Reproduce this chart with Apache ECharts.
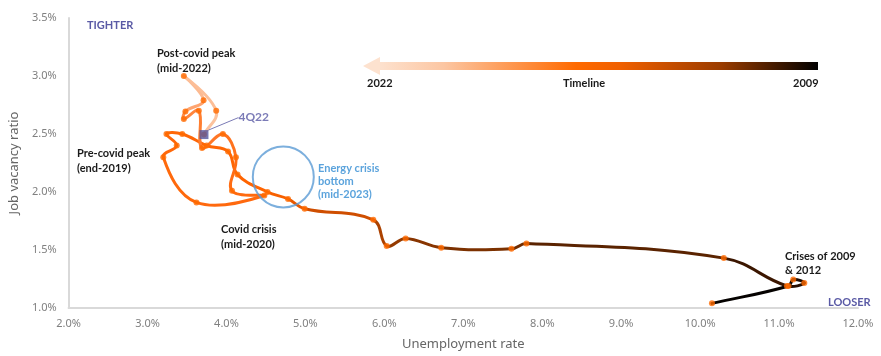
<!DOCTYPE html>
<html>
<head>
<meta charset="utf-8">
<script src="https://cdn.jsdelivr.net/npm/echarts@6/dist/echarts.min.js"></script>
<style>
  html, body { margin: 0; padding: 0; background: #fff; }
  #chart { width: 881px; height: 356px; }
</style>
</head>
<body>
<div id="chart"></div>
<script>
// path from 2009 (dark) to 4Q22 (light)
const periods = ['2009', '2010', '2011', '2012', '2013', '2014', '2015', '2015b', '2016', '2016b', '2017', '2017b',
  '2018', '2018b', '2018Q3', '2018Q4', '2019Q1', '2019Q2', '2019Q3', '2019Q3b', '2019Q4a', '2019Q4',
  '2020Q1', '2020Q2', '2020Q3', '2020Q4', '2021Q1', '2021Q2', '2021Q3', '2021Q4', '2022Q1', '2022Q1b', '2022Q2', '2022Q3', '4Q22']
const unemployment = [10.15, 11.12, 11.18, 11.32, 11.10, 10.30, 7.80, 7.61, 6.72, 6.27, 6.03, 5.86,
  4.99, 4.78, 4.52, 4.14, 4.02, 3.75, 3.44, 3.24, 3.37, 3.20,
  3.62, 4.48, 4.07, 4.12, 3.955, 3.69, 3.65, 3.46, 3.48, 3.71, 3.46, 3.87, 3.715]
const vacancy = [1.04, 1.19, 1.245, 1.215, 1.19, 1.43, 1.555, 1.51, 1.52, 1.60, 1.535, 1.76,
  1.855, 1.94, 2.00, 2.15, 2.35, 2.40, 2.50, 2.50, 2.40, 2.30,
  1.91, 1.97, 2.01, 2.30, 2.50, 2.38, 2.70, 2.63, 2.695, 2.79, 3.00, 2.70, 2.495]
// energy crisis bottom marker (mid-2023)
const energyBottom = [4.72, 2.13]

// timeline colours, keyed by point index
const stops = [[0, '#000000'], [4, '#2b0f00'], [6, '#6a2a00'], [10, '#9a3c00'], [12, '#e05400'], [14, '#ff6400'],
  [24, '#ff6a10'], [27, '#ff7a2a'], [30, '#ff9050'], [31, '#fcb88e'], [34, '#fcc4a0']]

function hex2rgb (h) {
  return [parseInt(h.substr(1, 2), 16), parseInt(h.substr(3, 2), 16), parseInt(h.substr(5, 2), 16)]
}
function colourAt (t) {
  for (let s = 0; s < stops.length - 1; s++) {
    if (t <= stops[s + 1][0]) {
      const a = hex2rgb(stops[s][1])
      const b = hex2rgb(stops[s + 1][1])
      const f = (t - stops[s][0]) / (stops[s + 1][0] - stops[s][0])
      return 'rgb(' + a.map((v, k) => Math.round(v + (b[k] - v) * f)).join(',') + ')'
    }
  }
  return stops[stops.length - 1][1]
}

const last = unemployment.length - 1
const points = unemployment.map((u, i) => [u, vacancy[i]])

// one coloured bezier per step, control points scaled by neighbouring step lengths
function renderSegment (params, api) {
  const i = params.dataIndex
  if (i >= last) return
  const pt = j => {
    j = Math.max(0, Math.min(last, j))
    return api.coord([unemployment[j], vacancy[j]])
  }
  const dist = (a, b) => Math.hypot(a[0] - b[0], a[1] - b[1])
  const p0 = pt(i - 1)
  const p1 = pt(i)
  const p2 = pt(i + 1)
  const p3 = pt(i + 2)
  const s = 0.4
  const r1 = dist(p1, p2) / ((dist(p0, p1) + dist(p1, p2)) || 1)
  const r2 = dist(p1, p2) / ((dist(p1, p2) + dist(p2, p3)) || 1)
  return {
    type: 'bezierCurve',
    shape: {
      x1: p1[0], y1: p1[1], x2: p2[0], y2: p2[1],
      cpx1: p1[0] + (p2[0] - p0[0]) * s * r1, cpy1: p1[1] + (p2[1] - p0[1]) * s * r1,
      cpx2: p2[0] - (p3[0] - p1[0]) * s * r2, cpy2: p2[1] - (p3[1] - p1[1]) * s * r2
    },
    style: { stroke: colourAt(i + 0.5), lineWidth: 3, fill: 'none', lineCap: 'round' }
  }
}

const font = 'Noto Sans'
const noteFont = 'bold 11px Lato'
const annot = (x, y, text, colour, lh) => ({
  type: 'text', left: x, top: y, z: 100,
  style: { text: text, fill: colour || '#1a1a1a', font: noteFont, lineHeight: lh || 15 }
})

const chart = echarts.init(document.getElementById('chart'))
chart.setOption({
  animation: false,
  textStyle: { fontFamily: font },
  grid: { left: 67, right: 23, top: 18, bottom: 45 },
  xAxis: {
    type: 'value', min: 2, max: 12, interval: 1,
    name: 'Unemployment rate', nameLocation: 'middle', nameGap: 30,
    nameTextStyle: { color: '#666', fontSize: 13 },
    axisLine: { lineStyle: { color: '#d9d9d9', width: 2 } },
    axisTick: { show: false },
    splitLine: { show: false },
    axisLabel: { color: '#808080', fontSize: 11, margin: 10, formatter: v => v.toFixed(1) + '%' }
  },
  yAxis: {
    type: 'value', min: 1, max: 3.5, interval: 0.5,
    name: 'Job vacancy ratio', nameLocation: 'middle', nameGap: 42,
    nameTextStyle: { color: '#666', fontSize: 13 },
    axisLine: { show: true, lineStyle: { color: '#d9d9d9', width: 2 } },
    axisTick: { show: false },
    splitLine: { show: false },
    axisLabel: { color: '#808080', fontSize: 11, margin: 12, formatter: v => v.toFixed(1) + '%' }
  },
  series: [
    {
      type: 'custom',
      renderItem: renderSegment,
      data: points,
      encode: { x: 0, y: 1 },
      z: 2
    },
    {
      type: 'scatter',
      data: points,
      symbolSize: 6,
      itemStyle: { color: '#ff6a00' },
      z: 3
    },
    {
      type: 'scatter',
      data: [[unemployment[last], vacancy[last]]],
      symbol: 'rect',
      symbolSize: 9,
      itemStyle: { color: '#55559e' },
      label: { show: true, position: 'right', formatter: '4Q22', color: '#5a5aa5', fontSize: 12, fontFamily: 'Lato', fontWeight: 'bold' },
      labelLayout: { dx: 25, dy: -17 },
      labelLine: { show: true, lineStyle: { color: '#7a7ab5', width: 1 } },
      z: 4
    },
    {
      type: 'scatter',
      data: [energyBottom],
      symbolSize: 61,
      itemStyle: { color: 'rgba(0,0,0,0)', borderColor: '#5b9bd5', borderWidth: 2 },
      z: 5
    }
  ],
  graphic: [
    { type: 'text', left: 87, top: 20, style: { text: 'TIGHTER', fill: '#5a5aa5', font: 'bold 11px Lato' } },
    { type: 'text', left: 828, top: 297, style: { text: 'LOOSER', fill: '#5a5aa5', font: 'bold 11px Lato' } },
    annot(157, 46, 'Post-covid peak\n(mid-2022)'),
    annot(77, 146, 'Pre-covid peak\n(end-2019)'),
    annot(221, 222, 'Covid crisis\n(mid-2020)'),
    annot(785, 249, 'Crises of 2009\n& 2012', null, 14),
    annot(318, 162, 'Energy crisis\nbottom\n(mid-2023)', '#5ba3dc', 13),
    {
      type: 'rect', shape: { x: 378, y: 62, width: 440, height: 8 },
      style: {
        fill: new echarts.graphic.LinearGradient(0, 0, 1, 0, [
          { offset: 0, color: '#fde2cf' }, { offset: 0.15, color: '#fcc6a2' },
          { offset: 0.45, color: '#ff6a00' }, { offset: 0.55, color: '#f06000' },
          { offset: 0.78, color: '#9a3c00' }, { offset: 1, color: '#000000' }
        ])
      }
    },
    { type: 'polygon', shape: { points: [[363, 66], [380, 57], [380, 75]] }, style: { fill: '#fde2cf' } },
    { type: 'text', left: 367, top: 78, style: { text: '2022', fill: '#1a1a1a', font: noteFont } },
    { type: 'text', left: 563, top: 78, style: { text: 'Timeline', fill: '#1a1a1a', font: noteFont } },
    { type: 'text', left: 793, top: 78, style: { text: '2009', fill: '#1a1a1a', font: noteFont } }
  ]
})
</script>
</body>
</html>
